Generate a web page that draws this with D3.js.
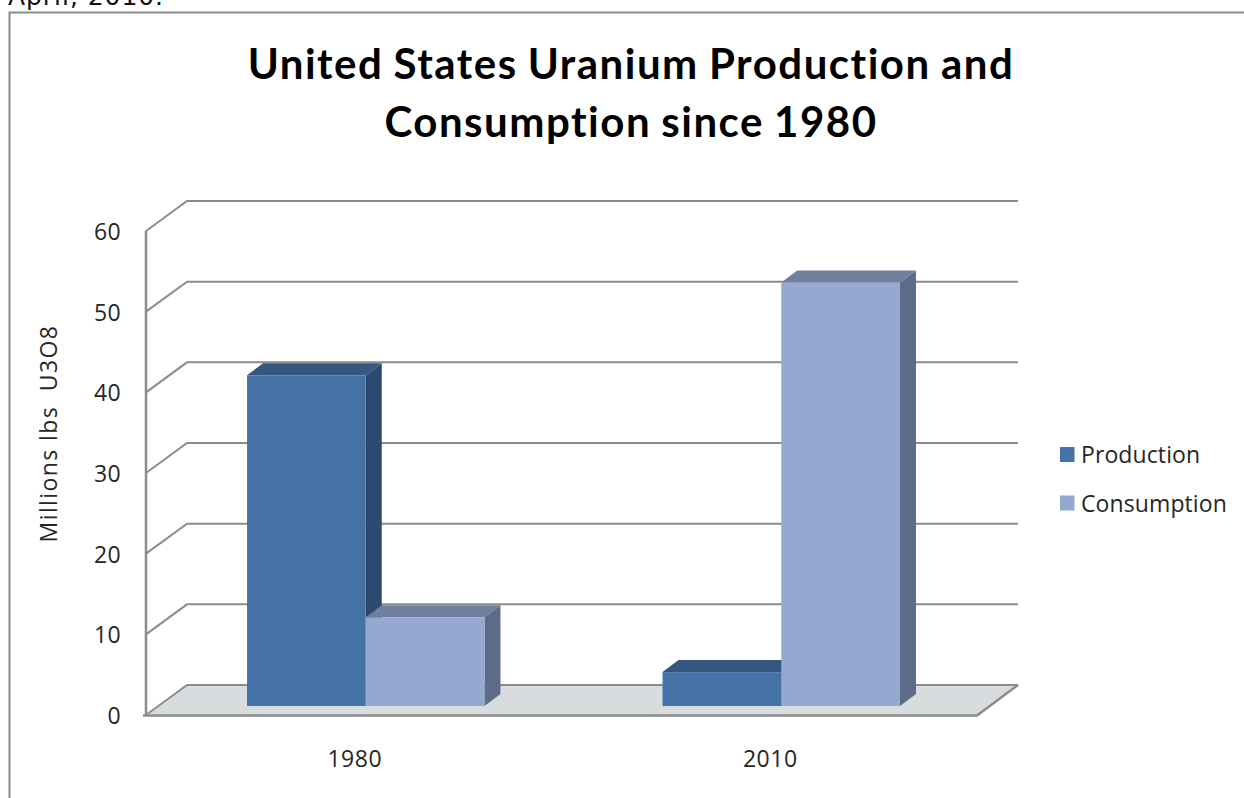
<!DOCTYPE html>
<html><head><meta charset="utf-8">
<script src="https://cdn.jsdelivr.net/npm/d3@7"></script>
<style>html,body{margin:0;padding:0;background:#fff;overflow:hidden}svg{display:block}text{font-variant-ligatures:none}</style>
</head><body><svg id="c" width="1244" height="798"></svg>
<script>
const categories = ["1980", "2010"];
const seriesNames = ["Production", "Consumption"];
const production = [41, 4.2];
const consumption = [11, 52.5];
const yTicks = [0, 10, 20, 30, 40, 50, 60];
const titleLines = ["United States Uranium Production and", "Consumption since 1980"];
const yAxisTitle = "Millions lbs  U3O8";
const clippedText = "April, 2010.";

const svg = d3.select("#c");
const plotL = 146, plotR = 977, plotT = 231, plotB = 715;
const depthX = 41, depthY = 30;
const barOffX = 12, barOffY = 9, barDX = 16, barDY = 12;
const baseY = 706;
const grey = "#8c8c8c";
const titleFont = "Lato, sans-serif";
const font = "'Open Sans', sans-serif";
const ink = "#262626";
const colors = {Production: {front: "#4572a7", top: "#34567f", side: "#2c4a70"},
                Consumption: {front: "#95a9d0", top: "#6f809e", side: "#5d6b86"}};

const y = d3.scaleLinear().domain([0, 60]).range([plotB, plotT]);
const x0 = d3.scaleBand().domain(categories).range([plotL, plotR])
  .paddingInner(1.5 / 3.5).paddingOuter(0.75 / 3.5);
const x1 = d3.scaleBand().domain(seriesNames).range([0, x0.bandwidth()]);
const bandCenter = d3.scaleBand().domain(categories).range([plotL, plotR]);

// clipped paragraph text and frame
svg.append("text").attr("x", 8).attr("y", 5).attr("font-family", "DejaVu Sans").attr("font-size", 25).attr("letter-spacing", 0.95).attr("fill", "#111").text(clippedText);
svg.append("path").attr("d", "M1244,12.5H9.5V798").attr("fill", "none").attr("stroke", grey).attr("stroke-width", 2);

// title
svg.append("g").selectAll("text").data(titleLines).join("text")
  .attr("x", 631).attr("y", (d, i) => 78.5 + i * 58).attr("text-anchor", "middle")
  .attr("font-family", titleFont).attr("font-weight", 700).attr("font-size", 42).attr("letter-spacing", 1.5).attr("word-spacing", -1.5).attr("fill", "#000").text(d => d);

// floor
svg.append("polygon")
  .attr("points", [[plotL, y(0)], [plotL + depthX, y(0) - depthY], [plotR + depthX, y(0) - depthY], [plotR, y(0)]].join(" "))
  .attr("fill", "#d8dcdf").attr("stroke", "none");

// gridlines
svg.append("g").selectAll("path").data(yTicks).join("path")
  .attr("d", d => `M${plotL},${y(d)}L${plotL + depthX},${y(d) - depthY}H${plotR + depthX}`)
  .attr("fill", "none").attr("stroke", grey).attr("stroke-width", 2);
svg.append("line").attr("x1", plotL).attr("x2", plotL).attr("y1", plotT).attr("y2", plotB + 1).attr("stroke", grey).attr("stroke-width", 2.5);
svg.append("path").attr("d", `M${plotL - 3},${plotB + 0.5}H${plotR}L${plotR + depthX},${y(0) - depthY}`).attr("fill", "none").attr("stroke", grey).attr("stroke-width", 2.5);

// bars
const rows = [];
categories.forEach((c, i) => {
  rows.push({c, s: "Production", v: production[i]});
  rows.push({c, s: "Consumption", v: consumption[i]});
});
const bars = svg.append("g").selectAll("g").data(rows).join("g");
const bx = d => x0(d.c) + x1(d.s) + barOffX;
const by = d => y(d.v) - barOffY;
const bw = x1.bandwidth();
bars.append("polygon").attr("fill", d => colors[d.s].side)
  .attr("points", d => [[bx(d) + bw, by(d)], [bx(d) + bw + barDX, by(d) - barDY], [bx(d) + bw + barDX, baseY - barDY], [bx(d) + bw, baseY]].join(" "));
bars.append("polygon").attr("fill", d => colors[d.s].top)
  .attr("points", d => [[bx(d), by(d)], [bx(d) + barDX, by(d) - barDY], [bx(d) + bw + barDX, by(d) - barDY], [bx(d) + bw, by(d)]].join(" "));
bars.append("rect").attr("fill", d => colors[d.s].front)
  .attr("x", bx).attr("y", by).attr("width", bw).attr("height", d => baseY - by(d));

// y tick labels
svg.append("g").selectAll("text").data(yTicks).join("text")
  .attr("x", 121).attr("y", d => y(d) + 9).attr("text-anchor", "end")
  .attr("font-family", font).attr("font-size", 23).attr("letter-spacing", 0.4).attr("fill", ink).text(d => d);

// x tick labels
svg.append("g").selectAll("text").data(categories).join("text")
  .attr("x", d => bandCenter(d) + bandCenter.bandwidth() / 2 + 1).attr("y", 767).attr("text-anchor", "middle")
  .attr("font-family", font).attr("font-size", 23).attr("letter-spacing", 0.5).attr("fill", ink).text(d => d);

// y axis title
svg.append("text").attr("transform", "translate(57,433.5) rotate(-90)").attr("text-anchor", "middle")
  .attr("font-family", font).attr("font-size", 23).attr("letter-spacing", 1.4).attr("fill", ink).style("white-space", "pre").text(yAxisTitle);

// legend
const lg = svg.append("g").selectAll("g").data(seriesNames).join("g")
  .attr("transform", (d, i) => `translate(1060,${447 + i * 48.5})`);
lg.append("rect").attr("width", 14.5).attr("height", 15).attr("fill", d => colors[d].front);
lg.append("text").attr("x", 21).attr("y", 16).attr("font-family", font).attr("font-size", 23).attr("letter-spacing", 0.1).attr("fill", ink).text(d => d);
</script></body></html>
